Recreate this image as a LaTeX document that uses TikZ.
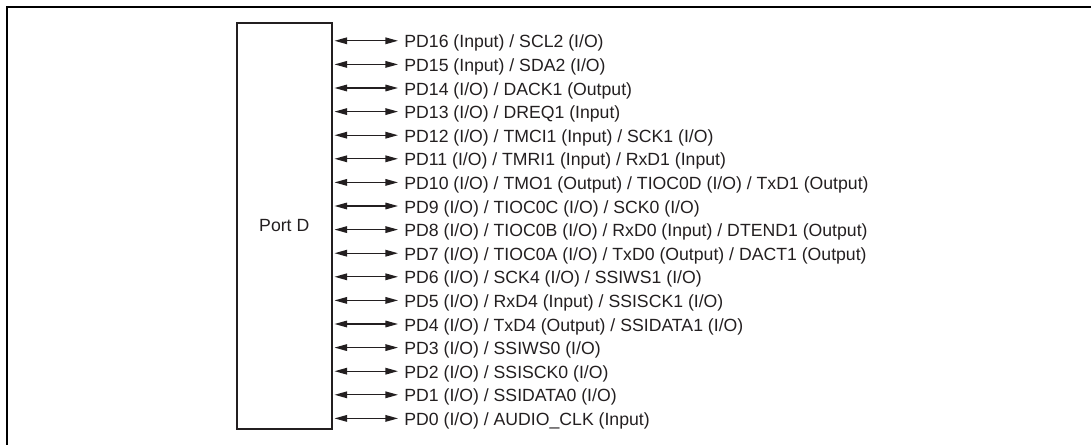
\documentclass[tikz,border=0pt]{standalone}
\usepackage{fontspec}
\setmainfont{Liberation Sans}
\usetikzlibrary{arrows.meta}
\definecolor{ink}{RGB}{35,31,32}
\begin{document}
\begin{tikzpicture}[x=0.5pt,y=-0.5pt,
  lbl/.style={anchor=west,inner sep=0pt,text height=0.716em,text depth=0pt,text=ink,font=\fontsize{8.83pt}{10pt}\selectfont},
  portbox/.style={draw=ink,line width=1pt,minimum width=47.25pt,minimum height=202.5pt,inner sep=0pt,text=ink,font=\fontsize{8.83pt}{10pt}\selectfont},
  biarrow/.style={draw=ink,line width=0.65pt,{Triangle[length=6.3pt,width=3.3pt]}-{Triangle[length=6.3pt,width=3.3pt]},shorten <=1pt,shorten >=3pt},
  frameline/.style={draw=black,line width=1pt}]
\useasboundingbox (0,0) rectangle (1091,444);
\draw[frameline] (6.7,460) -- (6.7,6.7) -- (1110,6.7);
\node[portbox] (port) at (284.25,226) {Port D};
\node[lbl] (l16) at (404,40.8) {PD16 (Input) / SCL2 (I/O)};
\node[lbl] (l15) at (404,64.4) {PD15 (Input) / SDA2 (I/O)};
\node[lbl] (l14) at (404,88.0) {PD14 (I/O) / DACK1 (Output)};
\node[lbl] (l13) at (404,111.6) {PD13 (I/O) / DREQ1 (Input)};
\node[lbl] (l12) at (404,135.2) {PD12 (I/O) / TMCI1 (Input) / SCK1 (I/O)};
\node[lbl] (l11) at (404,158.8) {PD11 (I/O) / TMRI1 (Input) / RxD1 (Input)};
\node[lbl] (l10) at (404,182.4) {PD10 (I/O) / TMO1 (Output) / TIOC0D (I/O) / TxD1 (Output)};
\node[lbl] (l9) at (404,206.0) {PD9 (I/O) / TIOC0C (I/O) / SCK0 (I/O)};
\node[lbl] (l8) at (404,229.6) {PD8 (I/O) / TIOC0B (I/O) / RxD0 (Input) / DTEND1 (Output)};
\node[lbl] (l7) at (404,253.2) {PD7 (I/O) / TIOC0A (I/O) / TxD0 (Output) / DACT1 (Output)};
\node[lbl] (l6) at (404,276.8) {PD6 (I/O) / SCK4 (I/O) / SSIWS1 (I/O)};
\node[lbl] (l5) at (404,300.4) {PD5 (I/O) / RxD4 (Input) / SSISCK1 (I/O)};
\node[lbl] (l4) at (404,324.0) {PD4 (I/O) / TxD4 (Output) / SSIDATA1 (I/O)};
\node[lbl] (l3) at (404,347.6) {PD3 (I/O) / SSIWS0 (I/O)};
\node[lbl] (l2) at (404,371.2) {PD2 (I/O) / SSISCK0 (I/O)};
\node[lbl] (l1) at (404,394.8) {PD1 (I/O) / SSIDATA0 (I/O)};
\node[lbl] (l0) at (404,418.4) {PD0 (I/O) / AUDIO\_CLK (Input)};
\foreach \i in {0,...,16}{
  \draw[biarrow] (port.east |- l\i.west) -- (l\i.west);
}
\end{tikzpicture}
\end{document}
